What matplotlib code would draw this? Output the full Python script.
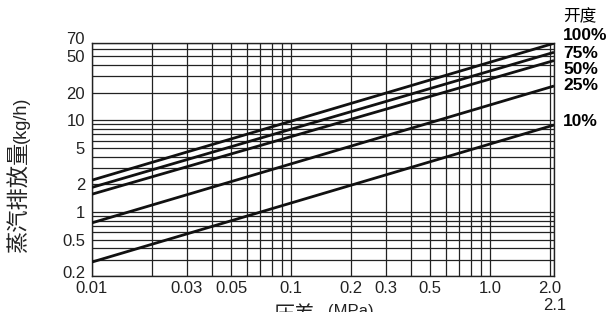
import matplotlib
matplotlib.use("Agg")
import matplotlib.pyplot as plt
from matplotlib.transforms import blended_transform_factory, offset_copy

# ---- data ----
pressure = [0.01, 2.1]
openings = ["100%", "75%", "50%", "25%", "10%"]
flow_100 = [2.22, 69.0]
flow_75 = [1.85, 55.0]
flow_50 = [1.56, 44.7]
flow_25 = [0.76, 23.6]
flow_10 = [0.284, 8.86]
series = [flow_100, flow_75, flow_50, flow_25, flow_10]

x_grid = [0.01, 0.02, 0.03, 0.04, 0.05, 0.06, 0.07, 0.08, 0.09,
          0.1, 0.2, 0.3, 0.4, 0.5, 0.6, 0.7, 0.8, 0.9, 1.0, 2.0, 2.1]
x_labels = {0.01: "0.01", 0.03: "0.03", 0.05: "0.05", 0.1: "0.1", 0.2: "0.2",
            0.3: "0.3", 0.5: "0.5", 1.0: "1.0", 2.0: "2.0"}
y_grid = [0.2, 0.3, 0.4, 0.5, 0.6, 0.7, 0.8, 0.9, 1, 2, 3, 4, 5, 6, 7, 8, 9,
          10, 20, 30, 40, 50, 60, 70]
y_labels = {0.5: "0.5", 1: "1", 2: "2", 5: "5", 10: "10", 20: "20", 50: "50"}
# edge labels nudged away from neighbours (value: (text, vertical offset in points))
y_edge_labels = {70: ("70", 2.5), 0.2: ("0.2", 1.5)}

num_font = "Liberation Sans"
cjk = ["Noto Sans CJK SC", "DejaVu Sans"]
txt_color = "#222222"

fig = plt.figure(figsize=(6.12, 3.12), dpi=100)
ax = fig.add_axes([92/612, 36/312, (554-92)/612, (276-42.7)/312])
ax.set_xscale("log")
ax.set_yscale("log")
ax.set_xlim(0.01, 2.1)
ax.set_ylim(0.2, 70)

for xv in x_grid:
    ax.axvline(xv, color="#222222", lw=0.9, zorder=1)
for yv in y_grid:
    ax.axhline(yv, color="#222222", lw=0.9, zorder=1)

for s in series:
    ax.plot(pressure, s, color="#111111", lw=2.0, solid_capstyle="butt", zorder=3)

ax.minorticks_off()
ax.set_xticks(x_grid)
ax.set_xticklabels([x_labels.get(v, "") for v in x_grid], fontsize=12,
                   family=num_font, color=txt_color)
ax.set_yticks(y_grid)
ax.set_yticklabels([y_labels.get(v, "") for v in y_grid], fontsize=12,
                   family=num_font, color=txt_color)
ax.tick_params(axis="x", length=0, pad=3.5)
ax.tick_params(axis="y", length=0, pad=5)
for sp in ax.spines.values():
    sp.set_linewidth(1.0)
    sp.set_color("#222222")

ytrans = blended_transform_factory(ax.transAxes, ax.transData)
for val, (txt, dy) in y_edge_labels.items():
    tr = offset_copy(ytrans, fig=fig, x=-5, y=dy, units="points")
    ax.text(0, val, txt, transform=tr, ha="right", va="center",
            fontsize=12, family=num_font, color=txt_color)

trans = blended_transform_factory(ax.transData, fig.transFigure)
ax.text(2.12, 1 - 305/312, "2.1", transform=trans, ha="center", va="center",
        fontsize=12, family=num_font, color=txt_color)

# right-hand labels
fig.text(563/612, 1 - 17/312, "开度", fontsize=12, family=cjk, va="center", ha="left")
label_y = [36, 53, 70, 86, 121]
for lab, yy in zip(openings, label_y):
    fig.text(563/612, 1 - yy/312, lab, fontsize=12.5, family=num_font,
             fontweight="bold", va="center", ha="left")

# axis labels
fig.text(19/612, 1 - 253/312, "蒸汽排放量", fontsize=16, family=cjk,
         rotation=90, ha="center", va="bottom", color=txt_color)
fig.text(21/612, 1 - 143/312, "(kg/h)", fontsize=13, family=num_font,
         rotation=90, ha="center", va="bottom", color=txt_color)
fig.text(273/612, 1 - 304/312, "压差", fontsize=15, family=cjk,
         ha="left", va="top", color=txt_color)
fig.text(328/612, 1 - 304/312, "(MPa)", fontsize=12, family=num_font,
         ha="left", va="top", color=txt_color)

fig.savefig("out.png", dpi=100)
